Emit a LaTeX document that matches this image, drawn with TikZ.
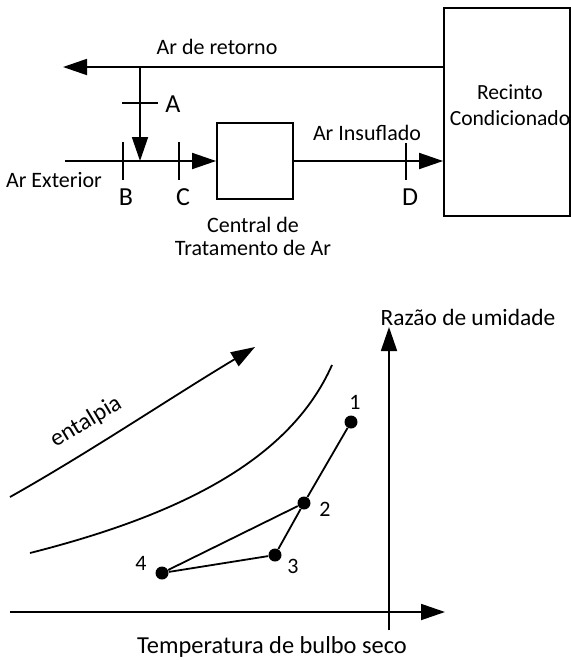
\documentclass[tikz,border=0pt]{standalone}
\usepackage{fontspec}
\setmainfont{Carlito}
\usetikzlibrary{arrows.meta}
\tikzstyle{seta} = [line width=0.9pt, -{Triangle[length=12pt,width=8pt]}]
\tikzstyle{linha} = [line width=0.9pt]
\tikzstyle{caixa} = [draw, rectangle, line width=0.9pt, inner sep=0pt]
\tikzstyle{rotulo} = [font=\fontsize{11}{13}\selectfont, align=center, inner sep=0pt]
\tikzstyle{letra} = [font=\fontsize{13}{15}\selectfont, inner sep=0pt]
\tikzstyle{ponto} = [circle, fill=black, inner sep=0pt, minimum size=6.5pt]

\begin{document}
\begin{tikzpicture}[x=0.5pt, y=-0.5pt]
            \useasboundingbox (0,0) rectangle (571,660);
            % Defining nodes
            \node[caixa, minimum width=38pt, minimum height=38pt] (Central) at (255,161) {};
            \node[caixa, minimum width=63pt, minimum height=104pt] (Recinto) at (507,112) {};
            \node[rotulo, font=\fontsize{10.8}{13}\selectfont] (RecintoTxt) at (510,105) {Recinto\\Condicionado};
            \node[rotulo, font=\fontsize{11}{11.5}\selectfont] (CentralTxt) at (253,236) {Central de\\Tratamento de Ar};
            \node[rotulo] (Retorno) at (217,47) {Ar de retorno};
            \node[rotulo] (Exterior) at (54,180) {Ar Exterior};
            \node[rotulo] (Insuflado) at (367,133) {Ar Insuflado};
            \node[letra] (LblA) at (173,104) {A};
            \node[letra] (LblB) at (126,197) {B};
            \node[letra] (LblC) at (183,197) {C};
            \node[letra] (LblD) at (410,197) {D};
            \coordinate (RetFim) at (63,67);
            \coordinate (JuncA) at (140,67);
            \coordinate (JuncB) at (140,161);
            \coordinate (ExtIni) at (65,161);

            % Drawing diagram
            \draw[seta] (Recinto.west |- RetFim) -- (RetFim);
            \draw[seta] (JuncA) -- (JuncB);
            \draw[seta] (ExtIni) -- (Central.west);
            \draw[seta] (Central.east) -- (Recinto.west |- Central.east);
            \draw[linha] (122,103) -- (158,103);
            \draw[linha] (123,142) -- (123,180);
            \draw[linha] (179,142) -- (179,180);
            \draw[linha] (406,143) -- (406,180);

            % Psychrometric chart
            \coordinate (XIni) at (10,612);
            \coordinate (XFim) at (445,612);
            \coordinate (YIni) at (389,630);
            \coordinate (YFim) at (389,327);
            \node[rotulo, font=\fontsize{11.7}{13}\selectfont] (Umidade) at (468,317) {Razão de umidade};
            \node[rotulo, font=\fontsize{12.2}{13}\selectfont] (Temperatura) at (272,647) {Temperatura de bulbo seco};
            \node[rotulo, rotate=31, font=\fontsize{12}{13}\selectfont] (Entalpia) at (86,422) {entalpia};
            \node[ponto] (P1) at (351,422) {};
            \node[ponto] (P2) at (304,503) {};
            \node[ponto] (P3) at (275,555) {};
            \node[ponto] (P4) at (162,573) {};
            \node[rotulo] (L1) at (355,402) {1};
            \node[rotulo] (L2) at (325,509) {2};
            \node[rotulo] (L3) at (293,566) {3};
            \node[rotulo] (L4) at (141,563) {4};
            \coordinate (E1) at (10,497);
            \coordinate (E2) at (255,347);
            \coordinate (H1) at (30,553);
            \coordinate (H2) at (332,365);

            \draw[seta] (XIni) -- (XFim);
            \draw[seta] (YIni) -- (YFim);
            \draw[seta] (E1) .. controls (90,452) and (170,398) .. (E2);
            \draw[linha] (H1) .. controls (180,515) and (290,460) .. (H2);
            \draw[linha] (P1) -- (P2) -- (P3) -- (P4) -- (P2);
\end{tikzpicture}
\end{document}
